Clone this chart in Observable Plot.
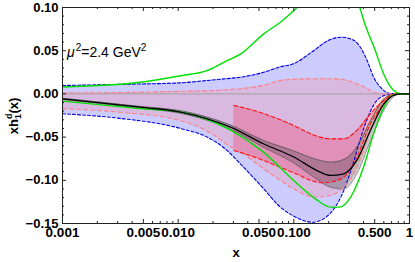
<!DOCTYPE html>
<html><head><meta charset="utf-8">
<script src="https://cdn.jsdelivr.net/npm/d3@7"></script>
<script src="https://cdn.jsdelivr.net/npm/@observablehq/plot@0.6"></script>
<style>body{margin:0;background:#fff}#c{width:415px;height:262px}</style>
</head><body><div id="c"></div>
<script>
// ---- data ----
const blueX  = [0.001,0.003,0.0105,0.0178,0.0257,0.0345,0.055,0.075,0.1,0.145,0.2,0.26,0.33,0.376,0.43,0.49,0.56,0.68,0.8,1];
const blueUp = [0.0097,0.011,0.0128,0.0155,0.0175,0.0193,0.025,0.031,0.035,0.049,0.062,0.0656,0.062,0.054,0.0387,0.0193,0.0078,0.0005,0,0];
const blueLo = [-0.023,-0.028,-0.040,-0.050,-0.064,-0.081,-0.110,-0.130,-0.1415,-0.1485,-0.140,-0.117,-0.078,-0.052,-0.029,-0.013,-0.004,-0.0005,0,0];

const pinkX  = [0.001,0.003,0.0105,0.02,0.0274,0.0345,0.055,0.0765,0.1,0.15,0.2,0.25,0.35,0.42,0.49,0.6,0.75,1];
const pinkUp = [0.001,0.0015,0.003,0.0038,0.005,0.006,0.010,0.0155,0.017,0.0175,0.0175,0.017,0.0117,0.007,0.002,0,0,0];
const pinkLo = [-0.017,-0.021,-0.031,-0.047,-0.060,-0.067,-0.087,-0.100,-0.110,-0.1195,-0.118,-0.112,-0.085,-0.057,-0.033,-0.010,0,0];

const redX   = [0.0303,0.05,0.0765,0.107,0.139,0.18,0.207,0.27,0.352,0.46,0.6,0.75,1];
const redUp  = [-0.0134,-0.021,-0.030,-0.0385,-0.046,-0.051,-0.052,-0.052,-0.042,-0.023,-0.0076,0,0];
const redLo  = [-0.0655,-0.075,-0.085,-0.093,-0.100,-0.103,-0.102,-0.0964,-0.073,-0.0346,-0.0115,0,0];

const greenUpX = [0.001,0.0047,0.0105,0.0178,0.027,0.0345,0.055,0.0765,0.103,0.15,0.2,0.27,0.376,0.402,0.507,0.598,0.73,0.85,1];
const greenUp  = [0.008,0.0135,0.021,0.027,0.039,0.046,0.0695,0.083,0.098,0.12,0.13,0.125,0.098,0.085,0.050,0.023,0.004,0,0];
const greenLoX = [0.001,0.0047,0.0105,0.0284,0.053,0.107,0.159,0.207,0.25,0.31,0.40,0.49,0.6,0.7,0.8,1];
const greenLo  = [-0.0084,-0.017,-0.021,-0.042,-0.066,-0.104,-0.123,-0.131,-0.131,-0.1195,-0.085,-0.046,-0.0154,-0.002,0,0];

const centX  = [0.001,0.0047,0.0105,0.0284,0.055,0.1,0.159,0.207,0.27,0.35,0.46,0.6,0.75,0.85,1];
const central= [-0.0057,-0.0154,-0.021,-0.0385,-0.058,-0.073,-0.0887,-0.0944,-0.0925,-0.077,-0.042,-0.0115,-0.001,0,0];
const centUp = [-0.0050,-0.0145,-0.0195,-0.0360,-0.054,-0.066,-0.076,-0.079,-0.076,-0.0617,-0.031,-0.006,0,0,0];
const centLo = [-0.0065,-0.0165,-0.0225,-0.041,-0.062,-0.080,-0.099,-0.108,-0.110,-0.0925,-0.054,-0.019,-0.002,0,0];

const xMajor = [0.001,0.005,0.01,0.05,0.1,0.5,1];
const xLabels = ["0.001","0.005","0.010","0.050","0.100","0.500","1"];
const xMinor = [0.002,0.003,0.004,0.006,0.007,0.008,0.009,0.02,0.03,0.04,0.06,0.07,0.08,0.09,0.2,0.3,0.4,0.6,0.7,0.8,0.9];
const yMajor = [-0.15,-0.10,-0.05,0,0.05,0.10];
const yLabels = ["\u22120.15","\u22120.10","\u22120.05","0.00","0.05","0.10"];
const yMinor = [-0.14,-0.13,-0.12,-0.11,-0.09,-0.08,-0.07,-0.06,-0.04,-0.03,-0.02,-0.01,0.01,0.02,0.03,0.04,0.06,0.07,0.08,0.09];

// ---- build ----
const band = (xs, lo, hi) => xs.map((x,i)=>({x, lo: lo[i], hi: hi[i]}));
const pts = (xs, ys) => xs.map((x,i)=>({x, y: ys[i]}));
const W = 415, H = 262, mL = 62, mR = 6, mT = 7, mB = 39;
const iW = W - mL - mR, iH = H - mT - mB;
const cv = "monotone-x";
const FONT = "'Liberation Sans', Arial, sans-serif";
const dashLine = (xs, ys, stroke, dash, sw) => Plot.line(pts(xs, ys), {x:"x", y:"y", stroke, strokeWidth: sw, strokeDasharray: dash, curve: cv, clip: true});

const plot = Plot.plot({
  width: W, height: H, marginLeft: mL, marginRight: mR, marginTop: mT, marginBottom: mB,
  x: {type: "log", domain: [0.001, 1], axis: null},
  y: {domain: [-0.15, 0.10], axis: null},
  style: {fontFamily: FONT, fontSize: "12px", background: "#fff", color: "#000"},
  marks: [
    Plot.areaY(band(blueX, blueLo, blueUp), {x:"x", y1:"lo", y2:"hi", fill:"#0000ff", fillOpacity:0.2, curve: cv, clip:true}),
    Plot.areaY(band(pinkX, pinkLo, pinkUp), {x:"x", y1:"lo", y2:"hi", fill:"#ff8080", fillOpacity:0.25, curve: cv, clip:true}),
    Plot.areaY(band(redX, redLo, redUp), {x:"x", y1:"lo", y2:"hi", fill:"#ff0033", fillOpacity:0.22, curve: cv, clip:true}),
    Plot.areaY(band(centX, centLo, centUp), {x:"x", y1:"lo", y2:"hi", fill:"#404040", fillOpacity:0.3, curve: cv, clip:true}),
    Plot.ruleY([0], {stroke:"#a0a0a0", strokeWidth:1}),
    dashLine(centX, centUp, "#505050", null, 0.7),
    dashLine(centX, centLo, "#505050", null, 0.7),
    dashLine(blueX, blueUp, "#0000e0", "3,2", 1.1),
    dashLine(blueX, blueLo, "#0000e0", "3,2", 1.1),
    dashLine(pinkX, pinkUp, "#ff8080", "4,3", 1.1),
    dashLine(pinkX, pinkLo, "#ff8080", "4,3", 1.1),
    dashLine(redX, redUp, "#ff1010", "4,2.5", 1.1),
    dashLine(redX, redLo, "#ff1010", "4,2.5", 1.1),
    dashLine(greenUpX, greenUp, "#00e000", null, 1.4),
    dashLine(greenLoX, greenLo, "#00e000", null, 1.4),
    dashLine(centX, central, "#000000", null, 1.3),
    // inward ticks
    Plot.tickX(xMajor, {x: d=>d, insetTop: iH-4, stroke:"#222"}),
    Plot.tickX(xMinor, {x: d=>d, insetTop: iH-2, stroke:"#222"}),
    Plot.tickX(xMajor, {x: d=>d, insetBottom: iH-4, stroke:"#222"}),
    Plot.tickX(xMinor, {x: d=>d, insetBottom: iH-2, stroke:"#222"}),
    Plot.tickY(yMajor, {y: d=>d, insetRight: iW-4, stroke:"#222"}),
    Plot.tickY(yMinor, {y: d=>d, insetRight: iW-2, stroke:"#222"}),
    Plot.tickY(yMajor, {y: d=>d, insetLeft: iW-4, stroke:"#222"}),
    Plot.tickY(yMinor, {y: d=>d, insetLeft: iW-2, stroke:"#222"}),
    Plot.frame({stroke:"#222", strokeWidth:1}),
    // tick labels
    Plot.text(xMajor, {x: d=>d, text: (d,i)=>xLabels[i], frameAnchor: "bottom", lineAnchor: "top", dy: 4, fontWeight: "bold", fontSize: 13.5, fill: "#000"}),
    Plot.text(yMajor, {y: d=>d, text: (d,i)=>yLabels[i], frameAnchor: "left", textAnchor: "end", dx: -4, fontWeight: "bold", fontSize: 13, fill: "#000"}),
    Plot.text(["x"], {frameAnchor: "bottom", dy: 29, fontWeight: "bold", fontSize: 13, lineAnchor: "middle", fill: "#000"})
  ]
});
document.getElementById("c").appendChild(plot);

const svg = d3.select(plot);
// annotation
const t = svg.append("text").attr("x", 67).attr("y", 57).attr("text-anchor", "start")
  .attr("font-family", FONT).attr("font-size", 14).attr("fill", "#000");
t.append("tspan").attr("font-style", "italic").text("\u03bc");
t.append("tspan").attr("font-size", 10).attr("dx", 1).attr("dy", -6).text("2");
t.append("tspan").attr("dy", 6).text("=2.4 GeV");
t.append("tspan").attr("font-size", 10).attr("dy", -6).text("2");
// y label
const yl = svg.append("text").attr("transform", "translate(18,116) rotate(-90)")
  .attr("text-anchor", "middle").attr("font-family", FONT)
  .attr("font-size", 13).attr("font-weight", "bold").attr("fill", "#000");
yl.append("tspan").text("xh");
yl.append("tspan").attr("font-size", 9).attr("dy", 3).text("1");
yl.append("tspan").attr("font-size", 9).attr("dx", -5).attr("dy", -9).text("d");
yl.append("tspan").attr("dy", 6).text("(x)");
</script></body></html>
